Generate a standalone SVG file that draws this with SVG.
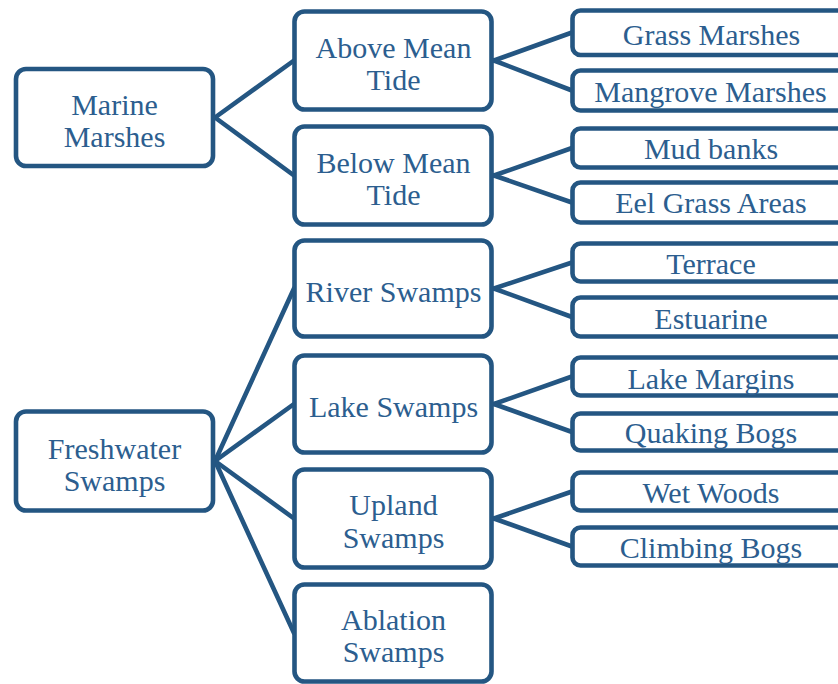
<svg xmlns="http://www.w3.org/2000/svg" width="838" height="684" viewBox="0 0 838 684">
  <style>
    .box { fill: #ffffff; stroke: #245682; stroke-width: 4.6; }
    .link { fill: none; stroke: #245682; stroke-width: 4.6; stroke-linecap: round; }
    .lbl { font-family: "Liberation Serif", "Times New Roman", serif; font-size: 30px; fill: #2c5e8f; text-anchor: middle; }
  </style>
  <rect width="838" height="684" fill="#ffffff"/>

  <!-- connectors -->
  <g id="connectors">
    <line class="link" x1="215" y1="117.5" x2="294" y2="60.5"/>
    <line class="link" x1="215" y1="117.5" x2="294" y2="175.5"/>
    <line class="link" x1="215" y1="461" x2="294" y2="288.5"/>
    <line class="link" x1="215" y1="461" x2="294" y2="404"/>
    <line class="link" x1="215" y1="461" x2="294" y2="518.5"/>
    <line class="link" x1="215" y1="461" x2="294" y2="633"/>

    <line class="link" x1="494" y1="60.5" x2="572" y2="32.5"/>
    <line class="link" x1="494" y1="60.5" x2="572" y2="90.5"/>
    <line class="link" x1="494" y1="175.5" x2="572" y2="148"/>
    <line class="link" x1="494" y1="175.5" x2="572" y2="202.5"/>
    <line class="link" x1="494" y1="288.5" x2="572" y2="262.5"/>
    <line class="link" x1="494" y1="288.5" x2="572" y2="317"/>
    <line class="link" x1="494" y1="404" x2="572" y2="376.5"/>
    <line class="link" x1="494" y1="404" x2="572" y2="432"/>
    <line class="link" x1="494" y1="518.5" x2="572" y2="491.5"/>
    <line class="link" x1="494" y1="518.5" x2="572" y2="546.5"/>
  </g>

  <!-- root categories -->
  <g id="marine-marshes">
    <rect class="box" x="16" y="69" width="197" height="97" rx="10"/>
    <text class="lbl" x="114.5" y="115">Marine</text>
    <text class="lbl" x="114.5" y="147">Marshes</text>
  </g>
  <g id="freshwater-swamps">
    <rect class="box" x="16" y="411.5" width="197" height="99" rx="10"/>
    <text class="lbl" x="114.5" y="459">Freshwater</text>
    <text class="lbl" x="114.5" y="491">Swamps</text>
  </g>

  <!-- second level -->
  <g id="above-mean-tide">
    <rect class="box" x="294.5" y="11.5" width="197" height="98" rx="10"/>
    <text class="lbl" x="393.5" y="58">Above Mean</text>
    <text class="lbl" x="393.5" y="90">Tide</text>
  </g>
  <g id="below-mean-tide">
    <rect class="box" x="294.5" y="126.5" width="197" height="98" rx="10"/>
    <text class="lbl" x="393.5" y="172.5">Below Mean</text>
    <text class="lbl" x="393.5" y="204.5">Tide</text>
  </g>
  <g id="river-swamps">
    <rect class="box" x="294.5" y="240.5" width="197" height="96" rx="10"/>
    <text class="lbl" x="393.5" y="302">River Swamps</text>
  </g>
  <g id="lake-swamps">
    <rect class="box" x="294.5" y="355.5" width="197" height="97" rx="10"/>
    <text class="lbl" x="393.5" y="417">Lake Swamps</text>
  </g>
  <g id="upland-swamps">
    <rect class="box" x="294.5" y="469.5" width="197" height="98" rx="10"/>
    <text class="lbl" x="393.5" y="515">Upland</text>
    <text class="lbl" x="393.5" y="548">Swamps</text>
  </g>
  <g id="ablation-swamps">
    <rect class="box" x="294.5" y="584.5" width="197" height="97" rx="10"/>
    <text class="lbl" x="393.5" y="630">Ablation</text>
    <text class="lbl" x="393.5" y="662">Swamps</text>
  </g>

  <!-- leaf types (boxes run past the right edge) -->
  <g id="grass-marshes">
    <rect class="box" x="572.5" y="10.5" width="290" height="44.5" rx="8"/>
    <text class="lbl" x="711.5" y="45">Grass Marshes</text>
  </g>
  <g id="mangrove-marshes">
    <rect class="box" x="572.5" y="70.5" width="290" height="40" rx="8"/>
    <text class="lbl" x="710.5" y="102">Mangrove Marshes</text>
  </g>
  <g id="mud-banks">
    <rect class="box" x="572.5" y="128.5" width="290" height="39" rx="8"/>
    <text class="lbl" x="711" y="159">Mud banks</text>
  </g>
  <g id="eel-grass-areas">
    <rect class="box" x="572.5" y="182.5" width="290" height="40" rx="8"/>
    <text class="lbl" x="711" y="213">Eel Grass Areas</text>
  </g>
  <g id="terrace">
    <rect class="box" x="572.5" y="243.5" width="290" height="38" rx="8"/>
    <text class="lbl" x="711" y="274">Terrace</text>
  </g>
  <g id="estuarine">
    <rect class="box" x="572.5" y="297.5" width="290" height="39" rx="8"/>
    <text class="lbl" x="711" y="329">Estuarine</text>
  </g>
  <g id="lake-margins">
    <rect class="box" x="572.5" y="357.5" width="290" height="38" rx="8"/>
    <text class="lbl" x="711" y="389">Lake Margins</text>
  </g>
  <g id="quaking-bogs">
    <rect class="box" x="572.5" y="413.5" width="290" height="37" rx="8"/>
    <text class="lbl" x="711" y="443">Quaking Bogs</text>
  </g>
  <g id="wet-woods">
    <rect class="box" x="572.5" y="472.5" width="290" height="38" rx="8"/>
    <text class="lbl" x="711" y="503">Wet Woods</text>
  </g>
  <g id="climbing-bogs">
    <rect class="box" x="572.5" y="527.5" width="290" height="38" rx="8"/>
    <text class="lbl" x="711" y="558">Climbing Bogs</text>
  </g>
</svg>
